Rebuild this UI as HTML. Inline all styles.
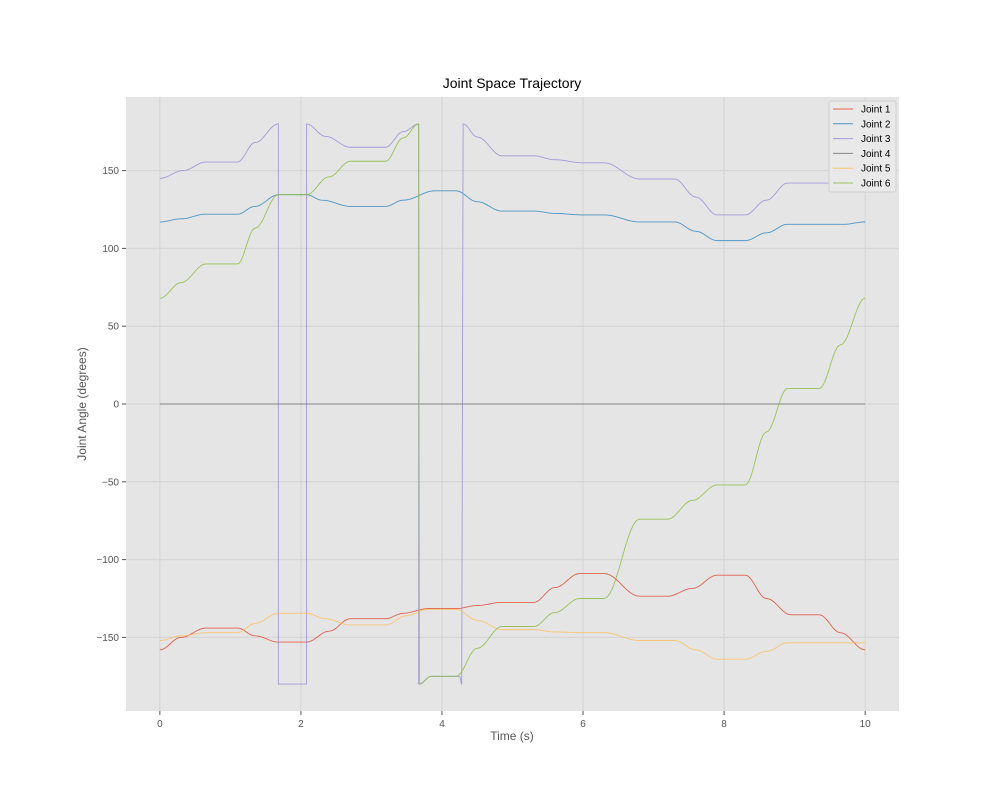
<!DOCTYPE html>
<html><head><meta charset="utf-8"><style>
body{margin:0;background:#fff;}
svg text{font-family:"Liberation Sans",sans-serif;}
</style></head><body>
<svg id="chart" width="1000" height="800" xmlns="http://www.w3.org/2000/svg">
<rect x="0" y="0" width="1000" height="800" fill="#fff"/>
<rect x="126" y="97" width="773" height="614" fill="#e5e5e5"/>
<g id="grid"></g>
<g id="series"></g>
<g id="ticks"></g>
<text x="512" y="88" font-size="14" text-anchor="middle" fill="#000">Joint Space Trajectory</text>
<text x="512" y="740" font-size="12" text-anchor="middle" fill="#555">Time (s)</text>
<text x="86" y="404" font-size="12" text-anchor="middle" fill="#555" transform="rotate(-90 86 404)">Joint Angle (degrees)</text>
<g id="legend"></g>
</svg>
<script>
const xTicks=[0,2,4,6,8,10];
const yTicks=[-150,-100,-50,0,50,100,150];
const yTickLabels=["\u2212150","\u2212100","\u221250","0","50","100","150"];
const seriesNames=["Joint 1","Joint 2","Joint 3","Joint 4","Joint 5","Joint 6"];
const seriesColors=["#E24A33","#348ABD","#988ED5","#777777","#FBC15E","#8EBA42"];
const j1T=[0,0.3,0.65,1.1,1.35,1.68,2.08,2.4,2.7,3.2,3.45,3.8,4.2,4.5,4.85,5.3,5.6,5.95,6.3,6.8,7.2,7.55,7.9,8.3,8.6,8.95,9.35,9.65,10];
const j1V=[-158,-150,-144,-144,-149,-153,-153,-146,-138,-138,-134.5,-131.5,-131.5,-129.5,-127.5,-127.5,-118,-109,-109,-123.5,-123.5,-118.5,-110,-110,-125,-135.5,-135.5,-147,-158];
const j2T=[0,0.3,0.65,1.1,1.35,1.68,2.08,2.3,2.7,3.2,3.45,3.9,4.2,4.5,4.85,5.3,5.6,6.0,6.3,6.8,7.3,7.6,7.9,8.3,8.6,8.9,9.7,10];
const j2V=[117,119,122,122,127,134.5,134.5,131,127,127,131,137,137,130,124,124,122.5,121.5,121.5,117,117,111,105,105,110,115.5,115.5,117];
const j3T=[0,0.33,0.65,1.1,1.35,1.68,1.68,2.08,2.08,2.35,2.7,3.2,3.45,3.67,3.67,3.85,4.25,4.28,4.3,4.5,4.85,5.3,5.6,6.0,6.3,6.8,7.3,7.6,7.9,8.3,8.6,8.9,10];
const j3V=[145,150,155.5,155.5,168,180,-180,-180,180,172,165,165,175,180,-180,-175,-175,-180,180,171.6,159.5,159.5,157,155,155,144.6,144.6,133,121.5,121.5,131,142,142];
const j4T=[0,10];
const j4V=[0,0];
const j5T=[0,0.3,0.65,1.1,1.35,1.68,2.08,2.35,2.7,3.2,3.5,3.8,4.2,4.5,4.85,5.3,5.6,6.0,6.3,6.8,7.3,7.6,7.9,8.3,8.6,8.9,10];
const j5V=[-152,-149,-147,-147,-141,-134.5,-134.5,-138,-142,-142,-136,-132,-132,-139,-145,-145,-146.5,-147,-147,-152,-152,-158,-164,-164,-159,-153.5,-153.5];
const j6T=[0,0.3,0.65,1.1,1.35,1.68,2.08,2.4,2.7,3.2,3.45,3.67,3.68,3.85,4.2,4.5,4.85,5.3,5.6,5.95,6.3,6.8,7.2,7.55,7.9,8.3,8.6,8.9,9.35,9.65,10];
const j6V=[68,78,90,90,113,134.5,134.5,146,156,156,171,180,-180,-175,-175,-157,-143,-143,-134,-125,-125,-74,-74,-62,-52,-52,-18,10,10,38,68];
const allT=[j1T,j2T,j3T,j4T,j5T,j6T];
const allV=[j1V,j2V,j3V,j4V,j5V,j6V];

const NS="http://www.w3.org/2000/svg";
const X0=126,X1=899,Y0=97,Y1=711;
const tMin=-0.48,tMax=10.48,vMin=-197.3,vMax=197.3;
function xs(t){return X0+(t-tMin)/(tMax-tMin)*(X1-X0);}
function ys(v){return Y1-(v-vMin)/(vMax-vMin)*(Y1-Y0);}
function mk(tag,attrs,parent){const e=document.createElementNS(NS,tag);for(const k in attrs)e.setAttribute(k,attrs[k]);parent.appendChild(e);return e;}
const grid=document.getElementById('grid'),ticks=document.getElementById('ticks'),ser=document.getElementById('series'),leg=document.getElementById('legend');
xTicks.forEach(t=>{
 const g=mk('line',{x1:xs(t),x2:xs(t),y1:Y0,y2:Y1,stroke:'#d4d4d4','stroke-width':1},grid);
 
 
 mk('line',{x1:xs(t),x2:xs(t),y1:Y1,y2:Y1+4,stroke:'#555'},ticks);
 const l=mk('text',{x:xs(t),y:Y1+16,'font-size':10,'text-anchor':'middle',fill:'#555'},ticks);
 l.textContent=t;
 
 
});
yTicks.forEach((v,i)=>{
 const g=mk('line',{x1:X0,x2:X1,y1:ys(v),y2:ys(v),stroke:'#d4d4d4','stroke-width':1},grid);
 
 
 mk('line',{x1:X0-4,x2:X0,y1:ys(v),y2:ys(v),stroke:'#555'},ticks);
 const l=mk('text',{x:X0-7,y:ys(v)+3.5,'font-size':10,'text-anchor':'end',fill:'#555'},ticks);
 l.textContent=yTickLabels[i];
 
 
});
allT.forEach((T,si)=>{
 const V=allV[si];let d='M'+xs(T[0]).toFixed(2)+','+ys(V[0]).toFixed(2);
 for(let i=1;i<T.length;i++){
  if(T[i]-T[i-1]<0.02){d+='L'+xs(T[i]).toFixed(2)+','+ys(V[i]).toFixed(2);continue;}
  for(let k=1;k<=12;k++){const f=k/12,s=(1-Math.cos(Math.PI*f))/2;
   d+='L'+xs(T[i-1]+(T[i]-T[i-1])*f).toFixed(2)+','+ys(V[i-1]+(V[i]-V[i-1])*s).toFixed(2);}
 }
 const p=mk('path',{d:d,fill:'none',stroke:seriesColors[si],'stroke-width':0.9,'stroke-opacity':0.85,'stroke-linejoin':'round'},ser);
 
 
});
mk('rect',{x:829,y:101,width:67,height:91,fill:'#e9e9e9',stroke:'#d0d0d0','stroke-width':1,rx:2},leg);
seriesNames.forEach((n,i)=>{
 const y=109+i*14.8;
 const g=mk('g',{},leg);
 
 
 mk('line',{x1:833,x2:853,y1:y,y2:y,stroke:seriesColors[i],'stroke-width':1,'stroke-opacity':0.85},g);
 const t=mk('text',{x:861,y:y+3.5,'font-size':10,fill:'#000'},g);
 t.textContent=n;
});
</script>
</body></html>
